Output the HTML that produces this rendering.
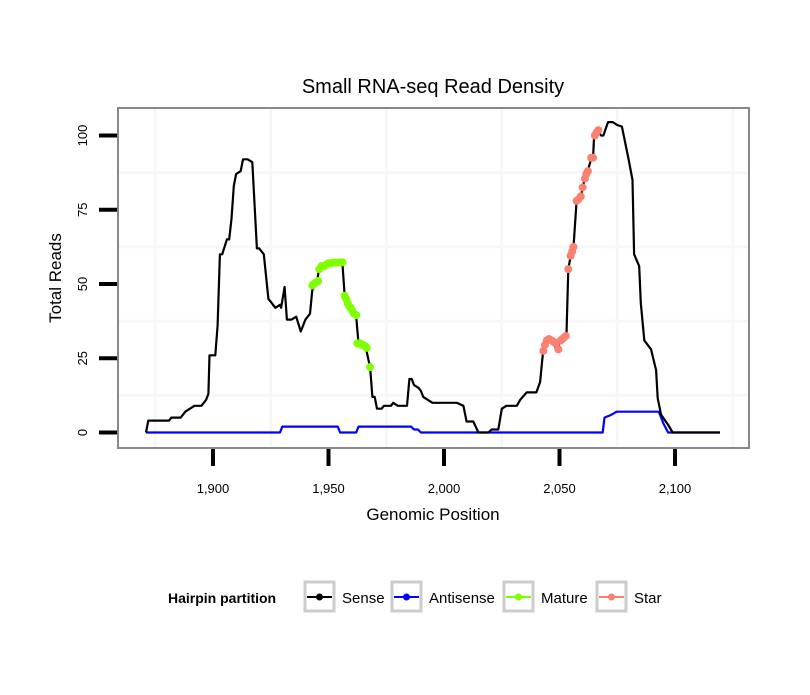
<!DOCTYPE html>
<html><head><meta charset="utf-8"><style>
body{margin:0;background:#fff;font-family:"Liberation Sans",sans-serif}
svg text{font-family:"Liberation Sans",sans-serif}
</style></head><body>
<svg id="chart" width="810" height="690" xmlns="http://www.w3.org/2000/svg">
<rect width="810" height="690" fill="#fff"/>
<text x="433" y="93" font-size="20" text-anchor="middle">Small RNA-seq Read Density</text>
<g id="grid"></g>
<g id="series"></g>
<rect x="118" y="108" width="631" height="340" fill="none" stroke="#888" stroke-width="2"/>
<g id="axes"></g>
<text x="433" y="520" font-size="17" text-anchor="middle">Genomic Position</text>
<text x="0" y="0" font-size="17" text-anchor="middle" transform="translate(61,278) rotate(-90)">Total Reads</text>
<g>
<text x="168" y="603" font-size="14" font-weight="bold">Hairpin partition</text>
<g><rect x="305" y="582" width="29" height="29" fill="#fff" stroke="#ccc" stroke-width="3"/><line x1="307" y1="597" x2="332" y2="597" stroke="#000" stroke-width="2"/><circle cx="319.5" cy="597" r="3.5" fill="#000"/><text x="342" y="603" font-size="15">Sense</text></g>
<g><rect x="392" y="582" width="29" height="29" fill="#fff" stroke="#ccc" stroke-width="3"/><line x1="394" y1="597" x2="419" y2="597" stroke="#0000ff" stroke-width="2"/><circle cx="406.5" cy="597" r="3.5" fill="#0000ff"/><text x="429" y="603" font-size="15">Antisense</text></g>
<g><rect x="504" y="582" width="29" height="29" fill="#fff" stroke="#ccc" stroke-width="3"/><line x1="506" y1="597" x2="531" y2="597" stroke="#7fff00" stroke-width="2"/><circle cx="518.5" cy="597" r="3.5" fill="#7fff00"/><text x="541" y="603" font-size="15">Mature</text></g>
<g><rect x="597" y="582" width="29" height="29" fill="#fff" stroke="#ccc" stroke-width="3"/><line x1="599" y1="597" x2="624" y2="597" stroke="#fa8072" stroke-width="2"/><circle cx="611.5" cy="597" r="3.5" fill="#fa8072"/><text x="634" y="603" font-size="15">Star</text></g>
</g>
</svg>
<script>
const xTicks=[1900,1950,2000,2050,2100];
const xTickLabels=["1,900","1,950","2,000","2,050","2,100"];
const yTicks=[0,25,50,75,100];
const yTickLabels=["0","25","50","75","100"];
const senseX=[1871,1872,1877,1881,1882,1886,1888,1890,1892,1895,1896,1897,1898,1898.5,1901,1902,1903,1904,1906,1907,1908,1909,1910,1912,1913,1915,1917,1919,1920,1922,1924,1925,1927,1929,1929.5,1931,1932,1934,1936,1938,1940,1942,1943,1945,1946,1950,1956,1957,1958,1959,1960,1961,1962,1963,1966,1968,1969,1970,1971,1973,1974,1977,1978,1980,1984,1985,1986,1987,1989,1990,1991,1995,2005.5,2008.4,2009.8,2012.7,2014.9,2019.2,2020.6,2023.5,2025,2027,2031.5,2033,2035.8,2040,2041.6,2043,2045,2047,2049,2051,2053,2053.8,2055,2056,2057.4,2059,2060,2061,2062,2063.7,2064.5,2065,2066.6,2068,2069,2071,2073,2075,2077,2080,2081.6,2082.3,2084.5,2085.2,2086.7,2089.6,2091.8,2092.5,2094,2097,2099,2119.5];
const senseY=[0,4,4,4,5,5,7,8,9,9,10,11,13,26,26,36,60,60,65,65,72,83,87,88,92,92,91,62,62,60,45,44,42,43,42,49,38,38,39,34,38,40,48,50,56,57,57,46,45,43,42,40,39,30,29,22,12,12,8,8,9,9,10,9,9,18,18,16,15,14,12,10,10,9,3.7,3.7,0,0,1,1,8,9,9,11,13.5,13.5,17,28,31,30,28,32,32,55,60,62,78,79,82,86,87.5,92,92,100.6,101.5,100,100,104.5,104.5,103.5,103,91.6,85,60,56,43.6,31,28,21,11.5,6,2.6,0,0];
const antiX=[1871,1929,1930,1954,1955,1962,1963,1985.7,1987,1988.7,1990,2068.7,2069.5,2071,2072.5,2074.7,2093,2095,2097,2119.5];
const antiY=[0,0,2,2,0,0,2,2,1,1,0,0,5,5.5,6,7,7,3,0,0];
const matureX=[1943,1943.7,1944.5,1945.5,1946,1947,1948,1949,1950,1951,1952,1953,1954,1955,1956,1957,1957.6,1958.3,1959,1959.6,1960.3,1961,1962,1962.5,1963,1963.7,1964.5,1965,1966,1966.5,1968];
const matureY=[49.5,50,50.5,51,55,56,56,56.5,57,57,57.2,57.2,57.2,57.3,57.3,46,45,43.5,42.5,42,41,40,39.5,30,30,30,29.5,29.5,29,28.5,22];
const starX=[2043,2043.7,2044.5,2045.5,2046.5,2047.5,2048.5,2049.5,2050.5,2051.3,2052,2052.7,2053.8,2054.8,2055.5,2056,2057.4,2058.2,2059.2,2060,2061,2061.6,2062.3,2063.7,2064.5,2065.3,2066,2066.8];
const starY=[27.5,29.5,31,31.5,31,30.5,30,28,31,31.5,32,32.5,55,59.5,61,62.5,78,78.5,79.5,82.5,85.5,87,88,92.5,92.5,100,101,101.8];

const NS="http://www.w3.org/2000/svg";
const sx=v=>213+(v-1900)*2.31;
const sy=v=>432.5-v*2.97;
function mk(tag,attrs,parent){const e=document.createElementNS(NS,tag);for(const k in attrs)e.setAttribute(k,attrs[k]);parent.appendChild(e);return e;}
const grid=document.getElementById('grid'),series=document.getElementById('series'),axes=document.getElementById('axes');
for(let g=1875;g<=2125;g+=50){const px=sx(g);if(px<119||px>748)continue;
const l=mk('line',{x1:px,x2:px,y1:109,y2:447,stroke:'#f7f7f7','stroke-width':3},grid);

}
for(let g=12.5;g<=112.5;g+=25){const py=sy(g);if(py<109||py>447)continue;
const l=mk('line',{x1:119,x2:748,y1:py,y2:py,stroke:'#f7f7f7','stroke-width':3},grid);

}
function line(xs,ys,color,name){const d=xs.map((x,i)=>(i?'L':'M')+sx(x).toFixed(1)+','+sy(ys[i]).toFixed(1)).join('');
const p=mk('path',{d:d,fill:'none',stroke:color,'stroke-width':2.2,'stroke-linejoin':'round'},series);

}
function pts(xs,ys,color,name){xs.forEach((x,i)=>{const c=mk('circle',{cx:sx(x),cy:sy(ys[i]),r:4,fill:color},series);

});}
line(antiX,antiY,'#0000ff','antisense-line');
line(senseX,senseY,'#000','sense-line');
pts(matureX,matureY,'#7fff00','mature-point');
pts(starX,starY,'#fa8072','star-point');
xTicks.forEach((t,i)=>{const px=sx(t);
const l=mk('line',{x1:px,x2:px,y1:449,y2:466,stroke:'#000','stroke-width':4},axes);


const tx=mk('text',{x:px,y:493,'font-size':13,'text-anchor':'middle'},axes);tx.textContent=xTickLabels[i];

});
yTicks.forEach((t,i)=>{const py=sy(t);
const l=mk('line',{x1:99,x2:117,y1:py,y2:py,stroke:'#000','stroke-width':4},axes);


const tx=mk('text',{x:0,y:0,'font-size':13,'text-anchor':'middle',transform:`translate(87,${py}) rotate(-90)`},axes);tx.textContent=yTickLabels[i];

});
</script>
</body></html>
